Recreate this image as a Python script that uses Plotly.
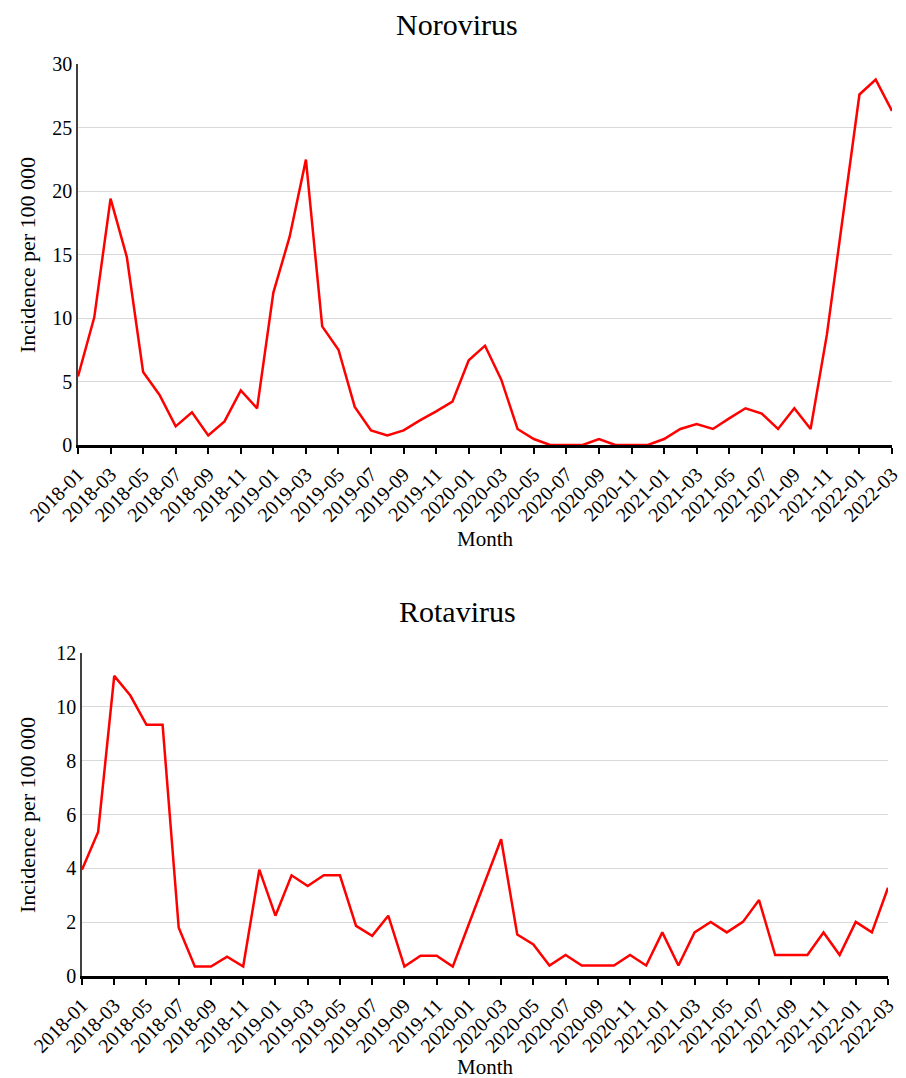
import plotly.graph_objects as go

months = [f"{y}-{m:02d}" for y in range(2018, 2023) for m in range(1, 13)][:51]

norovirus = [5.4, 10.05, 19.4, 14.8, 5.75, 3.96, 1.47, 2.57, 0.76, 1.86,
             4.3, 2.89, 12.0, 16.4, 22.47, 9.34, 7.5, 3.0, 1.15, 0.76,
             1.15, 1.94, 2.65, 3.41, 6.67, 7.82, 5.14, 1.26, 0.47, 0.0,
             0.0, 0.0, 0.47, 0.0, 0.0, 0.0, 0.47, 1.26, 1.65, 1.26,
             2.1, 2.89, 2.47, 1.26, 2.89, 1.26, 8.69, 18.1, 27.6, 28.77, 26.3]

rotavirus = [3.95, 5.35, 11.15, 10.42, 9.33, 9.33, 1.79, 0.35, 0.35, 0.72,
             0.35, 3.95, 2.24, 3.74, 3.34, 3.74, 3.74, 1.86, 1.49, 2.24,
             0.35, 0.75, 0.75, 0.35, 1.93, 3.52, 5.08, 1.54, 1.17, 0.39,
             0.78, 0.39, 0.39, 0.39, 0.78, 0.39, 1.62, 0.39, 1.62, 2.01,
             1.62, 2.01, 2.82, 0.78, 0.78, 0.78, 1.62, 0.78, 2.01, 1.62, 3.28]

tick_labels = months[::2]

W, H = 898, 1070
OFF = 8  # page body margin
FONT = "Liberation Serif, Times New Roman, serif"

def px_x(sx):
    return (sx - OFF) / W

def px_y(sy):
    return 1 - (sy - OFF) / H

fig = go.Figure()
fig.add_trace(go.Scatter(x=months, y=norovirus, mode="lines",
                         line=dict(color="#FF0000", width=2.5),
                         xaxis="x", yaxis="y", showlegend=False))
fig.add_trace(go.Scatter(x=months, y=rotavirus, mode="lines",
                         line=dict(color="#FF0000", width=2.5),
                         xaxis="x2", yaxis="y2", showlegend=False))

def xax(domain, anchor):
    return dict(domain=domain, anchor=anchor, type="category",
                range=[0, len(months) - 1],
                tickmode="array", tickvals=tick_labels, ticktext=tick_labels,
                tickangle=-45, ticks="outside", ticklen=6, tickwidth=2,
                tickcolor="black", showline=True, linecolor="black",
                linewidth=2.5, showgrid=False, zeroline=False,
                ticklabelstandoff=1,
                tickfont=dict(family=FONT, size=20, color="black"),
                automargin=False)

def yax(domain, anchor, rng, dtick):
    return dict(domain=domain, anchor=anchor, range=rng, dtick=dtick,
                showline=True, linecolor="#404040", linewidth=1.5,
                showgrid=True, gridcolor="#d9d9d9", gridwidth=1,
                zeroline=False, ticks="",
                tickfont=dict(family=FONT, size=20, color="black"),
                automargin=False)

fig.update_layout(
    width=W, height=H,
    margin=dict(l=0, r=0, t=0, b=0),
    plot_bgcolor="white", paper_bgcolor="white",
    font=dict(family=FONT, color="black"),
    xaxis=xax([px_x(78), px_x(892)], "y"),
    yaxis=yax([px_y(445), px_y(64)], "x", [0, 30], 5),
    xaxis2=xax([px_x(82), px_x(888)], "y2"),
    yaxis2=yax([px_y(976), px_y(653)], "x2", [0, 12], 2),
)

ann = [
    dict(text="Norovirus", x=457, y=25, size=30, angle=0),
    dict(text="Rotavirus", x=457, y=611, size=30, angle=0),
    dict(text="Month", x=485, y=539, size=21, angle=0),
    dict(text="Month", x=485, y=1067, size=21, angle=0),
    dict(text="Incidence per 100 000", x=27, y=255, size=22, angle=-90),
    dict(text="Incidence per 100 000", x=27, y=815, size=22, angle=-90),
]
for a in ann:
    fig.add_annotation(text=a["text"], x=px_x(a["x"]), y=px_y(a["y"]),
                       xref="paper", yref="paper",
                       xanchor="center", yanchor="middle", showarrow=False,
                       textangle=a["angle"],
                       font=dict(family=FONT, size=a["size"], color="black"))

fig.write_html("out.html")
